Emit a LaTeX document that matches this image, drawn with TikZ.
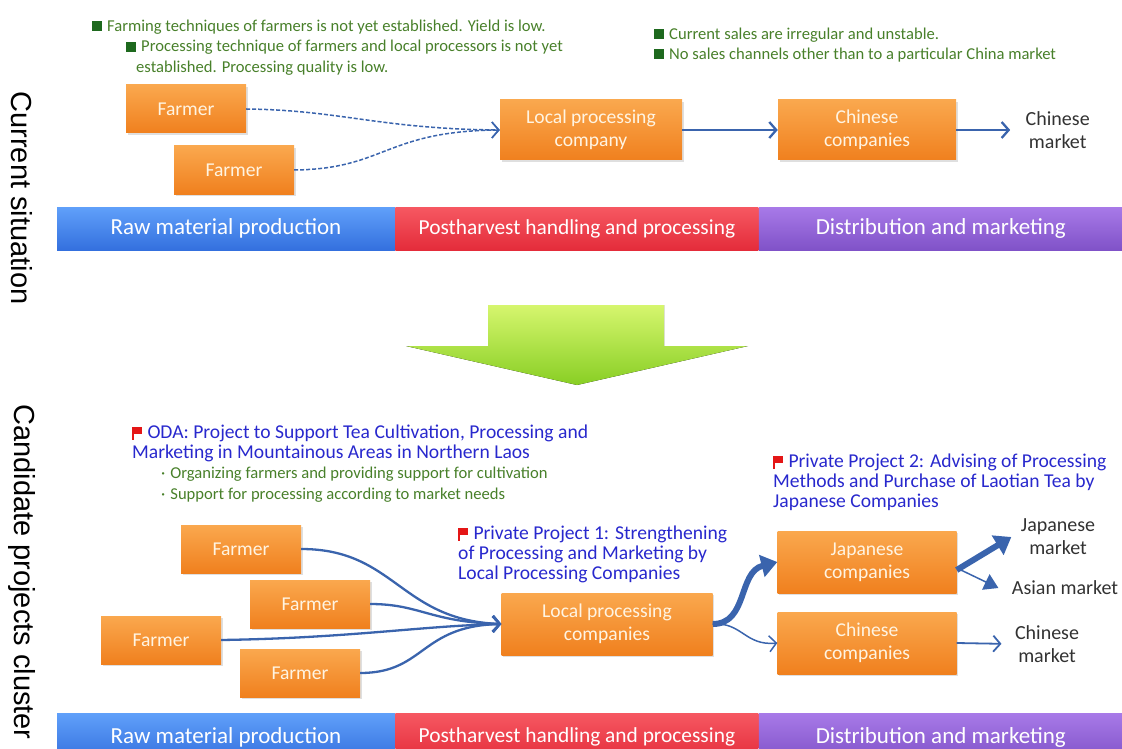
\documentclass[tikz,border=0pt]{standalone}
\usepackage{fontspec}
\setmainfont{Carlito}
\newfontfamily\arialfont{Liberation Sans}
\usetikzlibrary{positioning,shadows,arrows.meta}

\definecolor{boxtop}{RGB}{250,168,78}
\definecolor{boxbot}{RGB}{240,128,30}
\definecolor{boxtext}{RGB}{255,244,226}
\definecolor{flowblue}{RGB}{58,100,173}
\definecolor{notegreen}{RGB}{72,128,42}
\definecolor{sqgreen}{RGB}{30,105,30}
\definecolor{projblue}{RGB}{40,40,205}
\definecolor{flagred}{RGB}{228,22,22}
\definecolor{mkgrey}{RGB}{50,50,50}
\definecolor{rawtop}{RGB}{96,160,250}
\definecolor{rawbot}{RGB}{52,112,222}
\definecolor{posttop}{RGB}{246,88,98}
\definecolor{postbot}{RGB}{228,44,58}
\definecolor{disttop}{RGB}{168,122,232}
\definecolor{distbot}{RGB}{128,82,200}
\definecolor{downtop}{RGB}{214,246,110}
\definecolor{downbot}{RGB}{136,206,36}

\newcommand{\gsq}{\textcolor{sqgreen}{\rule{10pt}{10pt}}\hspace{5pt}}
\newcommand{\pflag}{\textcolor{flagred}{\rule[-1pt]{1.3pt}{13pt}\rule[5pt]{8pt}{7pt}}\hspace{6pt}}

\tikzset{
  box/.style={rectangle, top color=boxtop, bottom color=boxbot, text=boxtext,
    font=\fontsize{19.6}{23}\selectfont, align=center,
    drop shadow={shadow xshift=1.5pt, shadow yshift=-2pt, opacity=0.25}},
  farmer/.style={box, minimum width=120pt, minimum height=48pt},
  market/.style={text=mkgrey, font=\fontsize{20}{23}\selectfont, align=center},
  bar/.style={rectangle, inner sep=0pt, text=white, font=\fontsize{23}{26}\selectfont},
  note/.style={text=notegreen, font=\fontsize{16.6}{20.3}\selectfont, align=left, inner sep=0pt},
  proj/.style={text=projblue, font=\fontsize{19.6}{19.6}\selectfont, align=left, inner sep=0pt},
  side/.style={rotate=-90, font=\arialfont\fontsize{29}{31}\selectfont},
  flow/.style={draw=flowblue, line width=2.3pt, -{Straight Barb[length=7pt,width=16pt]}},
  fat/.style={draw=flowblue, line width=6pt, -{Triangle[length=16pt,width=22pt]}}
}

\begin{document}
\begin{tikzpicture}[x=1pt, y=-1pt]
\useasboundingbox (0,0) rectangle (1122,749);
\clip (0,0) rectangle (1122,749);

\node[side] (cur) at (22,198) {Current situation};
\node[side] (cand) at (22,572) {Candidate projects cluster};

% current situation
\node[note, anchor=west] (n1) at (92,27) {\gsq Farming techniques of farmers is not yet established. Yield is low.};
\node[note, anchor=north west] (n2) at (126,40) {\gsq Processing technique of farmers and local processors is not yet\\\hspace*{10pt}established. Processing quality is low.};
\node[note, anchor=west] (n3) at (654,35) {\gsq Current sales are irregular and unstable.};
\node[note, anchor=west] (n4) at (654,55) {\gsq No sales channels other than to a particular China market};

\node[farmer] (f1) at (186,109) {Farmer};
\node[farmer] (f2) at (234,170) {Farmer};
\node[box, minimum width=182pt, minimum height=60pt] (lp) at (591,130) {Local processing\\company};
\node[box, minimum width=178pt, minimum height=60pt] (cc) at (867,130) {Chinese\\companies};
\node[market, right=66pt of cc] (cm) {Chinese\\market};

\draw[flow, line width=1.5pt, dash pattern=on 4pt off 2pt] (f1.east) .. controls (340,110) and (380,129) .. (lp.west);
\draw[flow, line width=1.5pt, dash pattern=on 4pt off 2pt] (f2.east) .. controls (385,169) and (385,131) .. (lp.west);
\draw[flow] (lp.east) -- (cc.west);
\draw[flow, shorten >=12pt] (cc.east) -- (cm.west);

\node[bar, minimum width=338pt, minimum height=43pt, top color=rawtop, bottom color=rawbot] (raw1) at (226,228.5) {Raw material production};
\node[bar, minimum width=363pt, minimum height=43pt, top color=posttop, bottom color=postbot, font=\fontsize{21.4}{26}\selectfont, right=0pt of raw1] (post1) {Postharvest handling and processing};
\node[bar, minimum width=364pt, minimum height=43pt, top color=disttop, bottom color=distbot, right=0pt of post1] (dist1) {Distribution and marketing};

\fill[top color=downtop, bottom color=downbot] (488,305) -- (664,305) -- (664,346) -- (748,346)
  -- (577,385) -- (406,346) -- (488,346) -- cycle;

% candidate projects
\node[proj, anchor=north west] (oda) at (132,425) {\pflag ODA: Project to Support Tea Cultivation, Processing and\\Marketing in Mountainous Areas in Northern Laos};
\node[note, anchor=north west] (odab) at (161,467) {·\hspace{5pt}Organizing farmers and providing support for cultivation\\·\hspace{5pt}Support for processing according to market needs};
\node[proj, anchor=north west] (pp1) at (458,526) {\pflag Private Project 1: Strengthening\\of Processing and Marketing by\\Local Processing Companies};
\node[proj, anchor=north west] (pp2) at (773,454) {\pflag Private Project 2: Advising of Processing\\Methods and Purchase of Laotian Tea by\\Japanese Companies};

\node[farmer] (g1) at (241,549) {Farmer};
\node[farmer] (g2) at (310,604) {Farmer};
\node[farmer] (g3) at (161,640) {Farmer};
\node[farmer] (g4) at (300,673) {Farmer};
\node[box, minimum width=211pt, minimum height=62pt] (lpc) at (607,624) {Local processing\\companies};
\node[box, minimum width=179pt, minimum height=62pt] (jc) at (867,562) {Japanese\\companies};
\node[box, minimum width=179pt, minimum height=62pt] (cc2) at (867,643) {Chinese\\companies};
\node[market] (jm) at (1058,537) {Japanese\\market};
\node[market] (am) at (1065,588) {Asian market};
\node[market] (cm2) at (1047,644) {Chinese\\market};

\draw[flow] (g1.east) .. controls (395,549) and (400,620) .. (lpc.west);
\draw[flow] (g2.east) .. controls (420,604) and (430,622) .. (lpc.west);
\draw[flow] (g3.east) .. controls (350,638) and (420,626) .. (lpc.west);
\draw[flow] (g4.east) .. controls (425,673) and (420,626) .. (lpc.west);

\draw[fat] (lpc.east) .. controls (748,624) and (738,572) .. (jc.west);
\draw[flow, line width=1.5pt] (lpc.east) .. controls (742,622) and (745,646) .. (cc2.west);
\draw[fat] ([yshift=-8pt]jc.east) -- ([xshift=-6pt]jm.west);
\draw[flowblue, line width=1.5pt, -{Triangle[length=14pt,width=17pt]}] ([yshift=-6pt]jc.east) -- ([xshift=-10pt]am.west);
\draw[flow, line width=1.8pt, shorten >=10pt] (cc2.east) -- (cm2.west);

\node[bar, minimum width=338pt, minimum height=48pt, top color=rawtop, bottom color=rawbot] (raw2) at (226,737) {Raw material production};
\node[bar, minimum width=363pt, minimum height=48pt, top color=posttop, bottom color=postbot, font=\fontsize{21.4}{26}\selectfont, right=0pt of raw2] (post2) {Postharvest handling and processing};
\node[bar, minimum width=364pt, minimum height=48pt, top color=disttop, bottom color=distbot, right=0pt of post2] (dist2) {Distribution and marketing};
\end{tikzpicture}
\end{document}
